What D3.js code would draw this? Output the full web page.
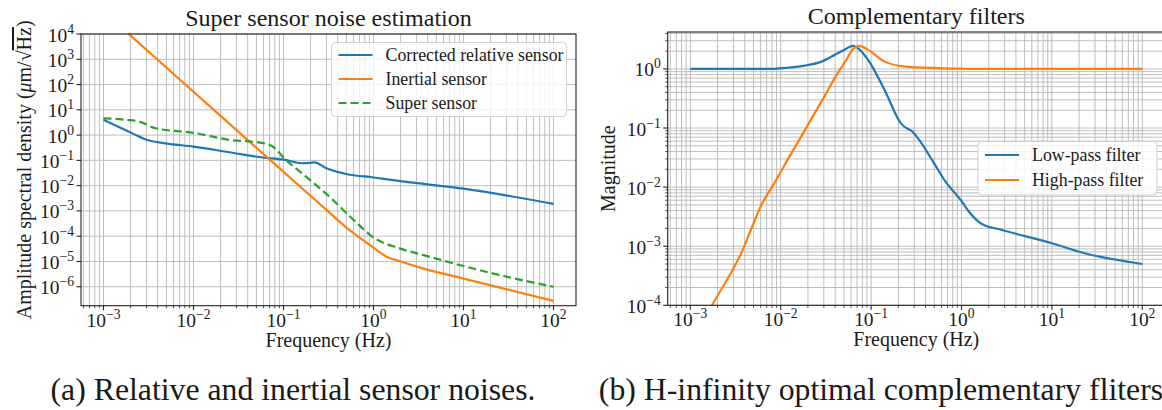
<!DOCTYPE html>
<html>
<head>
<meta charset="utf-8">
<script src="https://cdn.jsdelivr.net/npm/d3@7.9.0/dist/d3.min.js"></script>
<style>
  body { margin: 0; background: #fff; }
  #fig, #fig text { font-family: 'Liberation Serif', 'DejaVu Serif', 'Noto Serif', 'Times New Roman', Times, serif; }
  #fig text { fill: #1a1a1a; }
</style>
</head>
<body>
<svg id="fig" width="1162" height="410" font-family="'Liberation Serif', 'DejaVu Serif', serif"></svg>
<script>
// ---- data ----

// (a) noise amplitude spectral densities
const relFreq   = [0.001, 0.00148, 0.0021, 0.003, 0.0049, 0.01, 0.027, 0.059, 0.1, 0.16, 0.2, 0.22, 0.3, 0.5, 1, 2, 10, 100];
const relAsd    = [3.98, 2.1, 1.17, 0.65, 0.47, 0.35, 0.2, 0.13, 0.107, 0.077, 0.08, 0.083, 0.049, 0.029, 0.021, 0.015, 0.0076, 0.0019];

const inertFreq = [0.001, 0.01, 0.1, 0.3, 0.5, 0.76, 1, 1.4, 2, 3.6, 10, 100];
const inertAsd  = [7.8e4, 52, 0.035, 1.1e-3, 2.2e-4, 7.1e-5, 3.5e-5, 1.55e-5, 1.0e-5, 5.2e-6, 2.1e-6, 2.75e-7];

const superFreq = [0.001, 0.0018, 0.0025, 0.0038, 0.01, 0.025, 0.06, 0.075, 0.107, 0.179, 0.325, 0.59, 1, 1.95, 3.6, 10, 30, 100];
const superAsd  = [4.6, 4.0, 3.4, 1.86, 1.23, 0.65, 0.48, 0.36, 0.102, 0.0224, 0.0036, 4.7e-4, 8.9e-5, 3.3e-5, 1.78e-5, 6.6e-6, 2.5e-6, 1e-6];

// (b) complementary filters magnitude
const filtFreq  = [0.001, 0.00174, 0.00309, 0.0038, 0.00468, 0.006, 0.0085, 0.012, 0.0186, 0.0282, 0.0427, 0.0513, 0.063, 0.074, 0.093, 0.141, 0.214, 0.234, 0.275, 0.5, 0.646, 1, 1.17, 1.66, 2.75, 10, 23, 100];
const lowPass   = [1, 1, 1, 1, 1, 1, 1.005, 1.047, 1.14, 1.33, 1.84, 2.14, 2.45, 2.15, 1.41, 0.44, 0.12, 0.105, 0.091, 0.025, 0.0132, 0.0058, 0.0041, 0.0024, 0.0019, 0.00112, 0.00076, 0.0005];
const highPass  = [2e-5, 1e-4, 4.6e-4, 8.6e-4, 1.9e-3, 4.7e-3, 0.0117, 0.0295, 0.093, 0.28, 0.85, 1.3, 2.15, 2.45, 2.1, 1.33, 1.12, 1.1, 1.07, 1.04, 1.02, 1.01, 1, 1, 1, 1, 1, 1];

const xTickExps  = [-3, -2, -1, 0, 1, 2];
const yTickExpsA = [-6, -5, -4, -3, -2, -1, 0, 1, 2, 3, 4];
const yTickExpsB = [-4, -3, -2, -1, 0];

const colors = { blue: '#1f77b4', orange: '#ff7f0e', green: '#2ca02c' };

const svg = d3.select('#fig');

// the installed serif may be wider than the original one: measure once and scale all sizes
const probe = svg.append('text').attr('font-size', 31).text('(a) Relative and inertial sensor noises.');
const K = 485 / probe.node().getComputedTextLength();
probe.remove();
const FS = { tick: 19 * K, label: 19.5 * K, title: 23.5 * K, legend: 17.4 * K, caption: 31 * K };

// writes 10^exp as "10" + raised exponent
function powLabel(sel, exp, size) {
  sel.text('10');
  sel.append('tspan')
    .attr('dy', -8)
    .attr('font-size', size * 0.7)
    .text(exp < 0 ? '\u2212' + Math.abs(exp) : String(exp));
}

// all k*10^n values inside a log domain
function logValues(domain) {
  let out = [];
  let lo = Math.floor(Math.log10(domain[0])), hi = Math.ceil(Math.log10(domain[1]));
  for (let n = lo; n <= hi; n++) {
    for (let k = 1; k <= 9; k++) {
      let v = k * Math.pow(10, n);
      if (v >= domain[0] * 0.9999 && v <= domain[1] * 1.0001) out.push({ v: v, major: k === 1 });
    }
  }
  return out;
}

function drawPanel(cfg) {
  const { id, left, top, width, height, xDomain, yDomain } = cfg;
  const bottom = top + height;
  const x = d3.scaleLog().domain(xDomain).range([left, left + width]);
  const y = d3.scaleLog().domain(yDomain).range([bottom, top]);
  const g = svg.append('g');

  g.append('clipPath').attr('id', 'clip-' + id)
    .append('rect').attr('x', left).attr('y', top).attr('width', width).attr('height', height);

  const xs = logValues(xDomain);
  const ys = logValues(yDomain).filter(d => cfg.yMinor || d.major);

  // grid
  g.selectAll('.gx').data(xs).join('line')
    .attr('x1', d => x(d.v)).attr('x2', d => x(d.v))
    .attr('y1', top).attr('y2', bottom)
    .attr('stroke', '#b8b8b8').attr('stroke-width', 0.9);
  g.selectAll('.gy').data(ys).join('line')
    .attr('x1', left).attr('x2', left + width)
    .attr('y1', d => y(d.v)).attr('y2', d => y(d.v))
    .attr('stroke', '#b8b8b8').attr('stroke-width', 0.9);

  // series
  const line = d3.line()
    .x(d => x(d[0])).y(d => y(d[1]))
    .curve(d3.curveMonotoneX);
  cfg.series.forEach(s => {
    g.append('path')
      .datum(d3.zip(s.f, s.v))
      .attr('clip-path', `url(#clip-${id})`)
      .attr('d', line)
      .attr('fill', 'none')
      .attr('stroke', s.color)
      .attr('stroke-width', 2.2)
      .attr('stroke-dasharray', s.dash || null);
  });

  // spines
  g.append('rect')
    .attr('x', left).attr('y', top).attr('width', width).attr('height', height)
    .attr('fill', 'none').attr('stroke', '#222').attr('stroke-width', 1.1);

  // ticks
  g.selectAll('.tx').data(xs).join('line')
    .attr('x1', d => x(d.v)).attr('x2', d => x(d.v))
    .attr('y1', bottom).attr('y2', d => bottom + (d.major ? 4.5 : 2.5))
    .attr('stroke', '#222').attr('stroke-width', d => d.major ? 1.1 : 0.8);
  g.selectAll('.ty').data(ys).join('line')
    .attr('x1', d => left - (d.major ? 4.5 : 2.5)).attr('x2', left)
    .attr('y1', d => y(d.v)).attr('y2', d => y(d.v))
    .attr('stroke', '#222').attr('stroke-width', d => d.major ? 1.1 : 0.8);

  xTickExps.forEach(e => {
    g.append('text')
      .attr('x', x(Math.pow(10, e))).attr('y', bottom + 21)
      .attr('text-anchor', 'middle').attr('font-size', FS.tick)
      .call(powLabel, e, FS.tick);
  });
  cfg.yTicks.forEach(e => {
    g.append('text')
      .attr('x', left - 7).attr('y', y(Math.pow(10, e)) + 7.5)
      .attr('text-anchor', 'end').attr('font-size', FS.tick)
      .call(powLabel, e, FS.tick);
  });

  // title and axis labels
  g.append('text')
    .attr('x', left + width / 2).attr('y', top - 8)
    .attr('text-anchor', 'middle').attr('font-size', FS.title)
    .text(cfg.title);
  g.append('text')
    .attr('x', left + width / 2).attr('y', bottom + 41)
    .attr('text-anchor', 'middle').attr('font-size', FS.label)
    .text('Frequency (Hz)');
  const yl = g.append('text')
    .attr('transform', `translate(${cfg.yLabelX},${top + height / 2}) rotate(-90)`)
    .attr('text-anchor', 'middle').attr('font-size', FS.label);
  cfg.yLabel(yl);

  // legend
  const lg = cfg.legend;
  g.append('rect')
    .attr('x', lg.x).attr('y', lg.y).attr('width', lg.w).attr('height', lg.h)
    .attr('rx', 4)
    .attr('fill', 'rgba(255,255,255,0.82)').attr('stroke', '#d0d0d0').attr('stroke-width', 1);
  cfg.series.forEach((s, i) => {
    let ly = lg.y + lg.first + i * lg.step;
    g.append('line')
      .attr('x1', lg.x + 7).attr('x2', lg.x + 41)
      .attr('y1', ly).attr('y2', ly)
      .attr('stroke', s.color).attr('stroke-width', 2.2)
      .attr('stroke-dasharray', s.dash || null);
    g.append('text')
      .attr('x', lg.x + 54).attr('y', ly + 6)
      .attr('font-size', FS.legend)
      .text(s.name);
  });
}

// (a)
drawPanel({
  id: 'a', left: 81, top: 34, width: 495, height: 271.7,
  xDomain: [Math.pow(10, -3.25), Math.pow(10, 2.25)],
  yDomain: [Math.pow(10, -6.75), 1e4],
  yMinor: false,
  yTicks: yTickExpsA,
  title: 'Super sensor noise estimation',
  yLabelX: 31,
  yLabel: t => {
    t.append('tspan').text('Amplitude spectral density (');
    t.append('tspan').attr('font-style', 'italic').text('\u03bc');
    t.append('tspan').text('m/\u221a');
    t.append('tspan').style('text-decoration', 'overline').text('Hz');
    t.append('tspan').text(')');
  },
  legend: { x: 331.5, y: 42.5, w: 235, h: 74, first: 12.5, step: 24 },
  series: [
    { name: 'Corrected relative sensor', f: relFreq, v: relAsd, color: colors.blue },
    { name: 'Inertial sensor', f: inertFreq, v: inertAsd, color: colors.orange },
    { name: 'Super sensor', f: superFreq, v: superAsd, color: colors.green, dash: '8,4' }
  ]
});

// (b)
drawPanel({
  id: 'b', left: 667.7, top: 32, width: 497.2, height: 273.3,
  xDomain: [Math.pow(10, -3.25), Math.pow(10, 2.25)],
  yDomain: [1e-4, Math.pow(10, 0.625)],
  yMinor: true,
  yTicks: yTickExpsB,
  title: 'Complementary filters',
  yLabelX: 615,
  yLabel: t => t.text('Magnitude'),
  legend: { x: 978, y: 141.5, w: 179, h: 53.5, first: 13.5, step: 25 },
  series: [
    { name: 'Low-pass filter', f: filtFreq, v: lowPass, color: colors.blue },
    { name: 'High-pass filter', f: filtFreq, v: highPass, color: colors.orange }
  ]
});

// sub-figure captions
svg.append('text').attr('x', 293).attr('y', 400)
  .attr('text-anchor', 'middle').attr('font-size', FS.caption)
  .text('(a) Relative and inertial sensor noises.');
svg.append('text').attr('x', 881).attr('y', 400)
  .attr('text-anchor', 'middle').attr('font-size', FS.caption)
  .text('(b) H-infinity optimal complementary fliters');
</script>
</body>
</html>
